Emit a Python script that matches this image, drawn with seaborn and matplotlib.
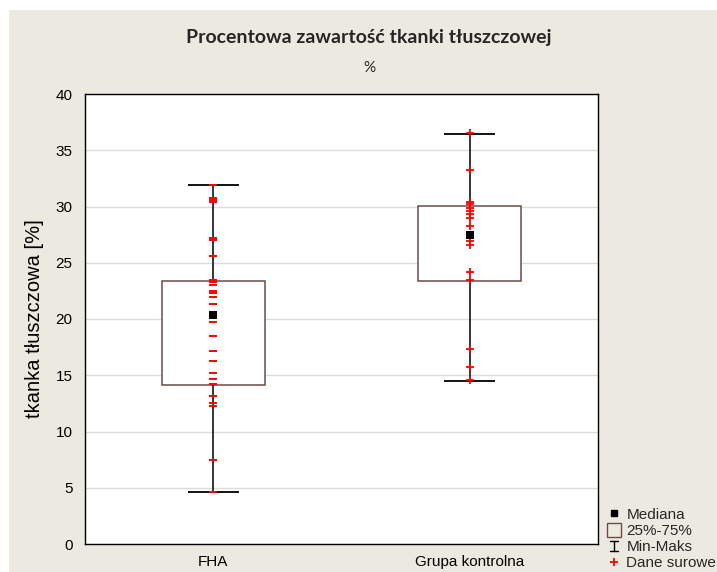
import numpy as np
import pandas as pd
import matplotlib
matplotlib.use("Agg")
import matplotlib.pyplot as plt
from matplotlib.lines import Line2D
from matplotlib.patches import Rectangle
from matplotlib.legend_handler import HandlerBase
import seaborn as sns

# ---- data ----
groups = ["FHA", "Grupa kontrolna"]
fha_raw = [31.9, 30.8, 30.6, 30.4, 27.2, 27.0, 25.6, 23.5, 23.3, 23.0, 22.5, 22.3,
           22.0, 21.3, 19.7, 18.5, 17.2, 16.3, 15.2, 14.7, 14.2, 13.2, 12.5, 12.3,
           7.5, 4.6]
kontrol_raw = [36.5, 33.2, 30.4, 30.2, 29.9, 29.6, 29.3, 29.0, 28.3, 26.9, 26.6,
               24.2, 23.5, 17.3, 15.7, 14.6]
medians = [20.4, 27.5]
q1 = [14.1, 23.4]
q3 = [23.4, 30.05]
mins = [4.6, 14.5]
maxs = [31.9, 36.45]
yticks = [0, 5, 10, 15, 20, 25, 30, 35, 40]

title = "Procentowa zawartość tkanki tłuszczowej"
subtitle = "%"
ylabel = "tkanka tłuszczowa [%]"
legend_labels = ["Mediana", "25%-75%", "Min-Maks", "Dane surowe"]

fha_df = pd.DataFrame({"grupa": [groups[0]] * len(fha_raw), "wartosc": fha_raw})
kon_df = pd.DataFrame({"grupa": [groups[1]] * len(kontrol_raw), "wartosc": kontrol_raw})
med_df = pd.DataFrame({"grupa": groups, "mediana": medians})

# ---- style ----
BEIGE = "#ECEAE0"
BOXEDGE = "#6E4A4A"
sns.set_theme(style="white")
plt.rcParams["font.family"] = ["Liberation Sans", "DejaVu Sans"]

fig = plt.figure(figsize=(7.17, 5.72), dpi=100, facecolor=BEIGE)
ax = fig.add_axes([85 / 717, 28 / 572, 513 / 717, 450 / 572])
ax.set_facecolor("white")

# white strips at top and left edges
fig.patches.append(Rectangle((0, 1 - 10 / 572), 1, 10 / 572, transform=fig.transFigure,
                             facecolor="white", edgecolor="none", zorder=0))
fig.patches.append(Rectangle((0, 0), 9 / 717, 1, transform=fig.transFigure,
                             facecolor="white", edgecolor="none", zorder=0))

pos = np.arange(len(groups))
bw = 0.4
cw = 0.2

# boxes (25%-75%)
ax.bar(pos, np.array(q3) - np.array(q1), bottom=q1, width=bw, facecolor="white",
       edgecolor=BOXEDGE, linewidth=1.1, zorder=2)
# whiskers min-max
ax.vlines(pos, mins, q1, color="black", linewidth=1.1, zorder=2)
ax.vlines(pos, q3, maxs, color="black", linewidth=1.1, zorder=2)
ax.hlines(mins, pos - cw / 2, pos + cw / 2, color="black", linewidth=1.3, zorder=2)
ax.hlines(maxs, pos - cw / 2, pos + cw / 2, color="black", linewidth=1.3, zorder=2)

# raw data
sns.stripplot(data=fha_df, x="grupa", y="wartosc", order=groups, jitter=False,
              marker="_", color="red", size=6, linewidth=1.4, ax=ax, zorder=4)
sns.stripplot(data=kon_df, x="grupa", y="wartosc", order=groups, jitter=False,
              marker="+", color="red", size=6, linewidth=1.3, ax=ax, zorder=4)
# medians
sns.stripplot(data=med_df, x="grupa", y="mediana", order=groups, jitter=False,
              marker="s", color="black", size=6, linewidth=0, ax=ax, zorder=5)

ax.set_xlim(-0.5, 1.5)
ax.set_ylim(0, 40)
ax.set_yticks(yticks)
ax.set_xlabel("")
ax.set_ylabel(ylabel, fontsize=14.5, color="black")
ax.yaxis.set_label_coords(-0.079, 0.5)
ax.tick_params(axis="both", direction="in", length=3, width=0.8, colors="black",
               labelsize=11, pad=8)
ax.tick_params(axis="y", pad=9)
ax.grid(axis="y", color="#dcdcdc", linewidth=1)
ax.set_axisbelow(True)
for s in ax.spines.values():
    s.set_color("black")
    s.set_linewidth(1)
    s.set_visible(True)

fig.text(369 / 717, 1 - 38 / 572, title, ha="center", va="center", fontsize=14,
         fontweight="bold", family="Lato")
fig.text(369 / 717, 1 - 68 / 572, subtitle, ha="center", va="center", fontsize=11,
         family="Lato")


# legend
class IBeamHandle:
    pass


class HandlerIBeam(HandlerBase):
    def create_artists(self, legend, orig_handle, xdescent, ydescent, width, height,
                       fontsize, trans):
        cx = width / 2 - xdescent
        h = height * 0.95
        y0 = (height - h) / 2 - ydescent
        y1 = y0 + h
        cw_ = width * 0.5
        lines = [
            Line2D([cx, cx], [y0, y1], color="black", lw=1, transform=trans),
            Line2D([cx - cw_ / 2, cx + cw_ / 2], [y1, y1], color="black", lw=1, transform=trans),
            Line2D([cx - cw_ / 2, cx + cw_ / 2], [y0, y0], color="black", lw=1, transform=trans),
        ]
        return lines


handles = [
    Line2D([], [], linestyle="none", marker="s", color="black", markersize=5),
    Line2D([], [], linestyle="none", marker="s", markerfacecolor="none",
           markeredgecolor=BOXEDGE, markersize=10, markeredgewidth=1),
    IBeamHandle(),
    Line2D([], [], linestyle="none", marker="+", color="red", markersize=6,
           markeredgewidth=1.3),
]
fig.legend(handles, legend_labels, loc="lower left", bbox_to_anchor=(605 / 717, 0.0),
           frameon=False, fontsize=11, handlelength=1.0, handletextpad=0.3,
           labelspacing=0.15, borderpad=0.1, borderaxespad=0,
           handler_map={IBeamHandle: HandlerIBeam()})

fig.savefig("out.png", dpi=100, facecolor=BEIGE)
